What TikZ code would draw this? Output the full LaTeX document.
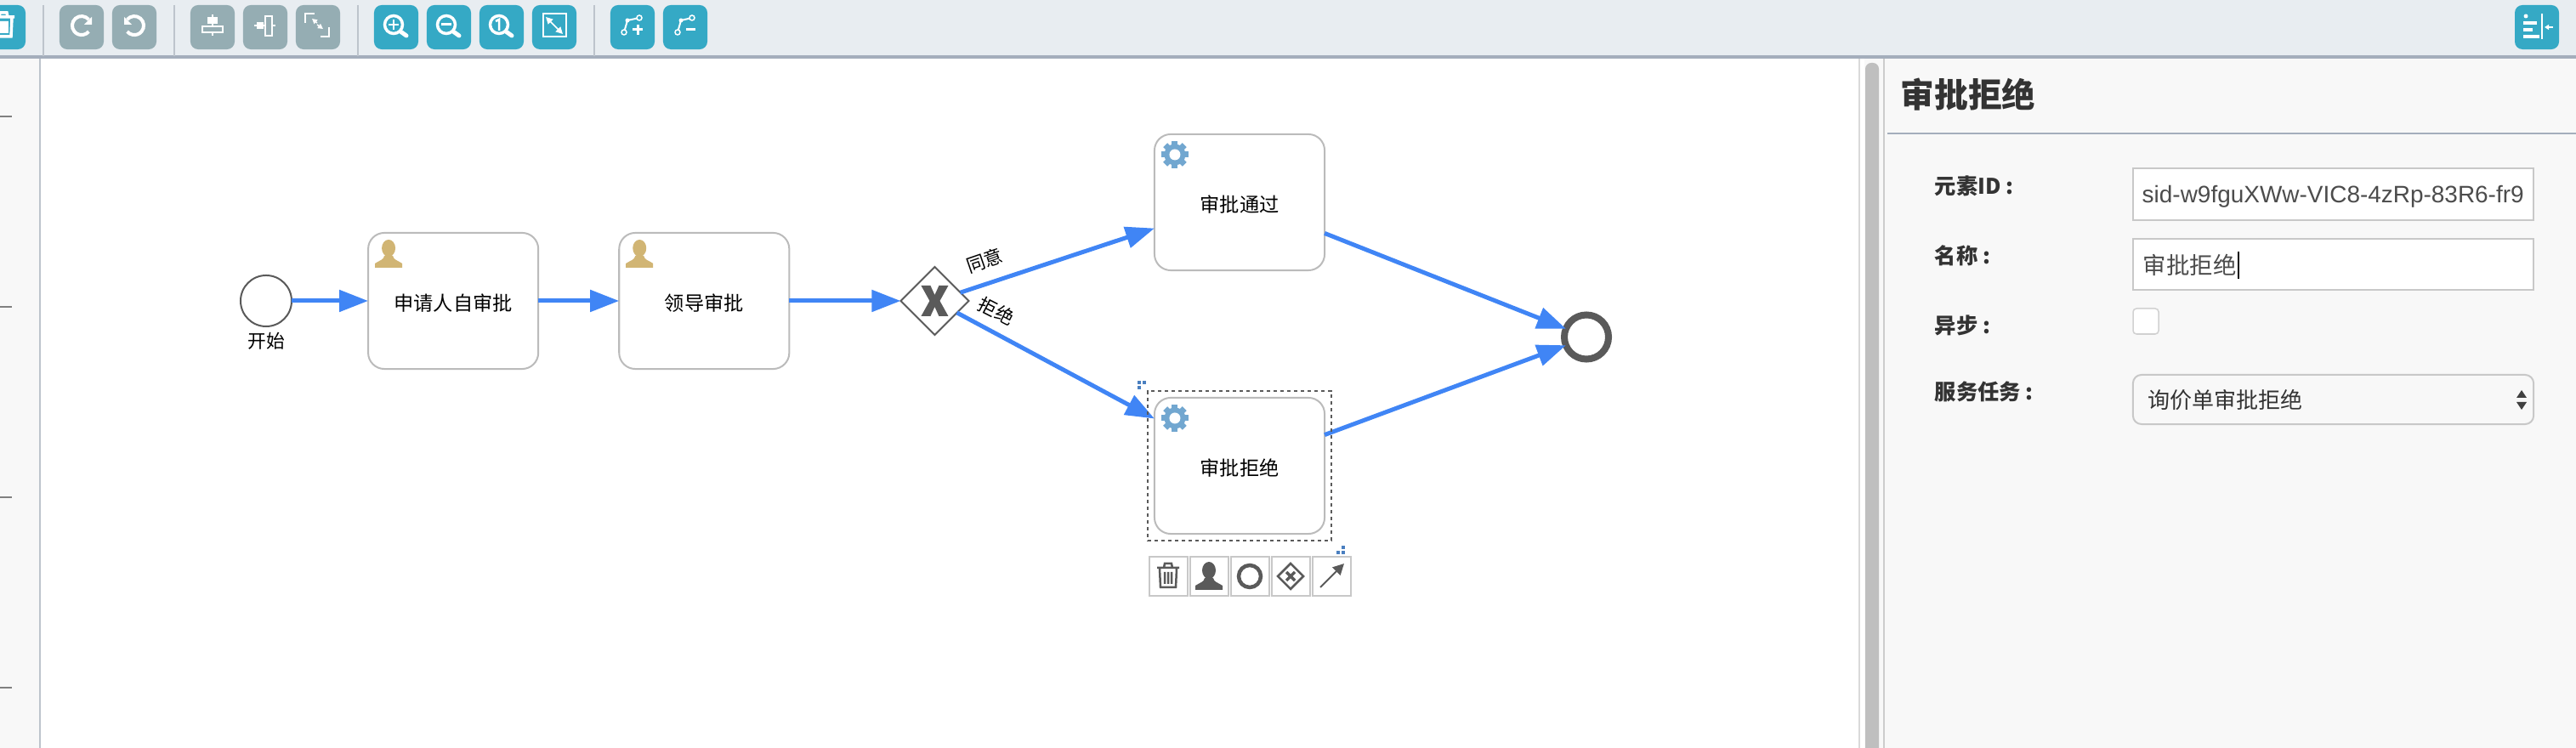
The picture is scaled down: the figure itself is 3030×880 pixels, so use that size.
\documentclass[tikz,border=0pt]{standalone}
\usepackage{fontspec}
\usepackage{xcolor}
\usetikzlibrary{positioning,arrows.meta,shapes.geometric}
\setmainfont{Liberation Sans}
\newfontfamily\cjk{Noto Sans CJK SC}
\definecolor{barbg}{HTML}{E8EDF1}
\definecolor{barline}{HTML}{A4AEBC}
\definecolor{barsep}{HTML}{BDC4CC}
\definecolor{btnblue}{HTML}{35A9C5}
\definecolor{btngray}{HTML}{95ADB3}
\definecolor{panelbg}{HTML}{F8F8F8}
\definecolor{flowblue}{HTML}{4085F5}
\definecolor{taskline}{HTML}{BBBBBB}
\definecolor{darkicon}{HTML}{5A5A5A}
\definecolor{userbrown}{HTML}{D1B574}
\definecolor{gearblue}{HTML}{72A7D0}
\definecolor{inputline}{HTML}{C8C8C8}
\definecolor{handleblue}{HTML}{4A7FC0}
\tikzset{
  toolbtn/.style={rounded corners=0.09cm, minimum width=0.52cm, minimum height=0.52cm, inner sep=0pt, outer sep=0pt},
  taskbox/.style={draw=taskline, line width=0.02cm, fill=white, rounded corners=0.19cm, minimum width=2cm, minimum height=1.6cm, inner sep=0pt, outer sep=0pt, text height=0.23cm, text depth=0pt, font=\cjk\fontsize{6.6}{8}\selectfont},
  flow/.style={-{Triangle[length=0.34cm,width=0.25cm]}, line width=0.05cm, color=flowblue},
  flowlabel/.style={inner sep=0pt, font=\cjk\fontsize{6.2}{8}\selectfont},
  fieldlabel/.style={inner sep=0pt, anchor=west, text=black!80, font=\cjk\bfseries\fontsize{7.2}{8}\selectfont},
  fieldbox/.style={draw=inputline, line width=0.02cm, fill=white, minimum width=4.71cm, inner sep=0pt, outer sep=0pt},
  palette/.style={draw=inputline, line width=0.02cm, fill=white, minimum width=0.45cm, minimum height=0.46cm, inner sep=0pt, outer sep=0pt},
  ticon/.style={color=white, line width=0.035cm},
  usericon/.pic={\fill[pic actions] (0,-7) circle[x radius=8, y radius=10] (-16,16) -- (-16,11) .. controls (-10,7) and (-6,7) .. (-5,2) -- (5,2) .. controls (6,7) and (10,7) .. (16,11) -- (16,16) -- cycle;},
  gearicon/.pic={\foreach \a in {0,45,...,315} {\fill[gearblue,rotate=\a] (-3.5,-16) rectangle (3.5,0);}
    \fill[gearblue] (0,0) circle[radius=12.5]; \fill[white] (0,0) circle[radius=6.5];},
  binicon/.pic={\draw[pic actions] (-10,-9) -- (-9,13) -- (9,13) -- (10,-9) (-13,-10) -- (13,-10) (-5,-10) -- (-4,-15) -- (4,-15) -- (5,-10) (-4,-5) -- (-4,9) (0,-5) -- (0,9) (4,-5) -- (4,9);},
  lensicon/.pic={\draw[ticon] (-3,-3) circle[radius=10.5]; \draw[ticon,line width=0.05cm,line cap=round] (5,5) -- (12,10);}
}
\begin{document}
\begin{tikzpicture}[x=0.01cm,y=-0.01cm]
\useasboundingbox (0,0) rectangle (3030,880);
\clip (0,0) rectangle (3030,880);
% toolbar
\fill[barbg] (0,0) rectangle (3030,66);
\draw[barline,line width=0.04cm] (0,67) -- (3030,67);
\foreach \sx in {51,205,421,699} {\draw[barsep,line width=0.02cm] (\sx,6) -- (\sx,66);}
\node[toolbtn,fill=btnblue] (bin) at (4,32) {};
\foreach \bx/\bname in {96/redo,158/undo,250/alignh,312/alignv,374/samesize} {\node[toolbtn,fill=btngray] (\bname) at (\bx,32) {};}
\foreach \bx/\bname in {466/zoomin,528/zoomout,590/zoomone,652/zoomfit,744/bendadd,806/bendcut,2984/fold} {\node[toolbtn,fill=btnblue] (\bname) at (\bx,32) {};}
\pic[ticon] at ([yshift=0.02cm]bin.center) {binicon};
% history buttons
\draw[ticon,line width=0.04cm] ([shift={(8.4,-9)}]redo.center) arc[start angle=40,end angle=320,radius=0.11cm];
\fill[white] ([shift={(12,-12)}]redo.center) -- ++(0,9) -- ++(-9,0) -- cycle;
\draw[ticon,line width=0.04cm] ([shift={(-8.4,-9)}]undo.center) arc[start angle=140,end angle=-140,radius=0.11cm];
\fill[white] ([shift={(-12,-12)}]undo.center) -- ++(0,9) -- ++(9,0) -- cycle;
% align buttons
\draw[ticon,line width=0.02cm] ([shift={(0,-15)}]alignh.center) -- ++(0,25);
\fill[white] ([shift={(-6,-12)}]alignh.center) rectangle ++(12,8);
\draw[ticon,line width=0.02cm,fill=btngray] ([shift={(-12,-1)}]alignh.center) rectangle ++(24,7);
\draw[ticon,line width=0.02cm] ([shift={(-13,-2)}]alignv.center) -- ++(25,0);
\fill[white] ([shift={(-10,-6)}]alignv.center) rectangle ++(8,8);
\draw[ticon,line width=0.02cm,fill=btngray] ([shift={(0,-13)}]alignv.center) rectangle ++(8,23);
\draw[ticon,line width=0.015cm] ([shift={(-15,-5)}]samesize.center) |- ++(11,-11);
\draw[ticon,line width=0.015cm] ([shift={(13,0)}]samesize.center) |- ++(-10,11);
\draw[ticon,line width=0.015cm,-{Triangle[length=0.06cm,width=0.06cm]}] ([shift={(-1,-5)}]samesize.center) -- ++(-6,-5);
\draw[ticon,line width=0.015cm,-{Triangle[length=0.06cm,width=0.06cm]}] ([shift={(-1,-3)}]samesize.center) -- ++(7,5);
% zoom buttons
\pic at (zoomin) {lensicon};
\draw[ticon,line width=0.025cm] ([shift={(-9,-3)}]zoomin.center) -- ++(12,0) ([shift={(-3,-9)}]zoomin.center) -- ++(0,12);
\pic at (zoomout) {lensicon};
\draw[ticon,line width=0.03cm] ([shift={(-9,-3)}]zoomout.center) -- ++(12,0);
\pic at (zoomone) {lensicon};
\draw[ticon,line width=0.025cm] ([shift={(-7,-7)}]zoomone.center) -- ++(4,-2) -- ++(0,13);
\draw[ticon,line width=0.02cm] ([shift={(-13.5,-16)}]zoomfit.center) rectangle ++(27,27);
\draw[ticon,line width=0.015cm,{Triangle[length=0.08cm,width=0.08cm]}-{Triangle[length=0.08cm,width=0.08cm]}] ([shift={(-10,-12)}]zoomfit.center) -- ++(20,20);
% bend buttons
\draw[ticon,line width=0.02cm] ([shift={(-10,6)}]bendadd.center) -- ++(4,-14) -- ++(14,-3);
\draw[ticon,line width=0.02cm] ([shift={(-9,6)}]bendcut.center) -- ++(4,-14) -- ++(13,-3);
\foreach \dot/\dx/\dy in {bendadd/-10/6,bendadd/8/-11,bendcut/-9/6,bendcut/8/-11} {\draw[ticon,line width=0.015cm,fill=btnblue] ([shift={(\dx,\dy)}]\dot.center) circle[radius=3];}
\fill[white] ([shift={(-6,-8)}]bendadd.center) circle[radius=2.5];
\fill[white] ([shift={(-5,-8)}]bendcut.center) circle[radius=2.5];
\draw[ticon,line width=0.03cm] ([shift={(0,3)}]bendadd.center) -- ++(12,0) ([shift={(6,-3)}]bendadd.center) -- ++(0,12);
\draw[ticon,line width=0.03cm] ([shift={(1,3)}]bendcut.center) -- ++(11,0);
% fold button
\fill[white] ([shift={(-13,-13)}]fold.center) circle[radius=2.5];
\foreach \ry/\rw in {-7/16,1/11,9/19} {\fill[white] ([shift={(-16,\ry)}]fold.center) rectangle ++(\rw,4.5);}
\draw[ticon,line width=0.015cm] ([shift={(6,-16)}]fold.center) -- ++(0,30);
\draw[ticon,line width=0.012cm,-{Triangle[length=0.05cm,width=0.06cm]}] ([shift={(19,0)}]fold.center) -- ++(-10,0);
% ruler, canvas, panel
\fill[panelbg] (0,69) rectangle (46,880);
\draw[barsep,line width=0.02cm] (47,69) -- (47,880);
\foreach \ty in {137,361,585,809} {\draw[gray,line width=0.015cm] (0,\ty) -- (14,\ty);}
\fill[panelbg] (2187,69) rectangle (3030,880);
\fill[white] (2187,69) rectangle (2193,880);
\draw[black!15,line width=0.015cm] (2187,69) -- (2187,880);
\fill[black!25,rounded corners=0.07cm] (2194,74) rectangle (2210,900);
\draw[black!20,line width=0.02cm] (2216,69) -- (2216,880);
\draw[barline,line width=0.025cm] (2220,157) -- (3030,157);
\node[inner sep=0pt,anchor=west,text=black!80,font=\cjk\bfseries\fontsize{11.3}{13}\selectfont] (title) at (2235,111) {审批拒绝};
\node[fieldlabel] (idlabel) at (2275,219) {元素ID :};
\node[fieldlabel] (namelabel) at (2275,301) {名称 :};
\node[fieldlabel] (asynclabel) at (2275,383) {异步 :};
\node[fieldlabel] (tasklabel) at (2275,461) {服务任务 :};
\node[fieldbox,minimum height=0.61cm] (idfield) at (2744.5,228.5) {};
\node[inner sep=0pt,anchor=west,text=black!70,font=\fontsize{7.95}{9}\selectfont] (idtext) at (2519,231) {sid-w9fguXWw-VIC8-4zRp-83R6-fr9};
\node[fieldbox,minimum height=0.6cm] (namefield) at (2744.5,311) {};
\node[inner sep=0pt,anchor=west,text=black!70,font=\cjk\fontsize{7.8}{9}\selectfont] (nametext) at (2520,312) {审批拒绝};
\draw[black,line width=0.012cm] (2633,296) -- (2633,328);
\node[draw=black!18,line width=0.015cm,fill=white,rounded corners=0.04cm,minimum size=0.3cm,inner sep=0pt] (asyncbox) at (2524,378) {};
\node[fieldbox,minimum height=0.58cm,rounded corners=0.1cm,fill=panelbg] (taskfield) at (2744.5,470) {};
\node[inner sep=0pt,anchor=west,text=black!80,font=\cjk\fontsize{7.4}{9}\selectfont] (tasktext) at (2526,471) {询价单审批拒绝};
\fill[black!75] (2966,459) -- (2972,468) -- (2960,468) -- cycle (2966,482) -- (2972,473) -- (2960,473) -- cycle;
% process
\node[draw=darkicon,line width=0.02cm,fill=white,circle,minimum size=0.6cm,inner sep=0pt,outer sep=0pt] (start) at (313,354) {};
\node[flowlabel,below=0.06cm of start] (startlabel) {开始};
\node[taskbox,right=0.9cm of start] (applicant) {申请人自审批};
\node[taskbox,right=0.95cm of applicant] (leader) {领导审批};
\node[draw=darkicon,line width=0.02cm,fill=white,diamond,aspect=1,minimum size=0.8cm,inner sep=0pt,outer sep=0pt,right=1.31cm of leader] (gate) {};
\node[taskbox] (pass) at (1458,238) {审批通过};
\node[taskbox] (reject) at (1458,548) {审批拒绝};
\node[draw=darkicon,line width=0.08cm,fill=white,circle,minimum size=0.52cm,inner sep=0pt,outer sep=0pt] (finish) at (1866,396.5) {};
\fill[darkicon] ([shift={(-16,-18)}]gate.center) -- ++(11,0) -- ++(5,11) -- ++(5,-11) -- ++(11,0) -- ++(-10,18) -- ++(10,18) -- ++(-11,0) -- ++(-5,-11) -- ++(-5,11) -- ++(-11,0) -- ++(10,-18) -- cycle;
\pic[fill=userbrown] at ([shift={(24,25)}]applicant.north west) {usericon};
\pic[fill=userbrown] at ([shift={(24,25)}]leader.north west) {usericon};
\pic at ([shift={(24,24)}]pass.north west) {gearicon};
\pic at ([shift={(24,24)}]reject.north west) {gearicon};
\draw[flow] (start) -- (applicant);
\draw[flow] (applicant) -- (leader);
\draw[flow] (leader) -- (gate);
\draw[flow] (gate.18) -- (pass.197.7);
\draw[flow] (gate.-28) -- (reject.151.2);
\draw[flow] (pass.-20.8) -- (finish.158);
\draw[flow] (reject.20.8) -- (finish.202);
\node[flowlabel,rotate=19] (agree) at (1158,307) {同意};
\node[flowlabel,rotate=-27] (refuse) at (1172,366) {拒绝};
% selection frame
\node[draw=darkicon,line width=0.018cm,minimum width=2.16cm,minimum height=1.76cm,inner sep=0pt,dash pattern=on 0.04cm off 0.04cm] (frame) at (1458,548) {};
\foreach \hx/\hy in {1338/448,1344/448,1338/454,1578/642,1572/648,1578/648} {\fill[handleblue] (\hx,\hy) rectangle ++(4,4);}
% palette under the selected task
\node[palette] (palbin) at (1374,678) {};
\node[palette] (paluser) at (1422,678) {};
\node[palette] (palend) at (1470,678) {};
\node[palette] (palgate) at (1518,678) {};
\node[palette] (palflow) at (1566,678) {};
\pic[draw=darkicon,line width=0.025cm] at (palbin) {binicon};
\pic[fill=darkicon] at (paluser) {usericon};
\draw[darkicon,line width=0.045cm] (palend.center) circle[radius=13];
\draw[darkicon,line width=0.025cm] ([shift={(-15,0)}]palgate.center) -- ++(15,-15) -- ++(15,15) -- ++(-15,15) -- cycle;
\draw[darkicon,line width=0.035cm] ([shift={(-5,-5)}]palgate.center) -- ++(10,10) ([shift={(5,-5)}]palgate.center) -- ++(-10,10);
\draw[darkicon,line width=0.02cm,-{Triangle[length=0.13cm,width=0.13cm]}] ([shift={(-13,13)}]palflow.center) -- ++(28,-28);
\end{tikzpicture}
\end{document}
